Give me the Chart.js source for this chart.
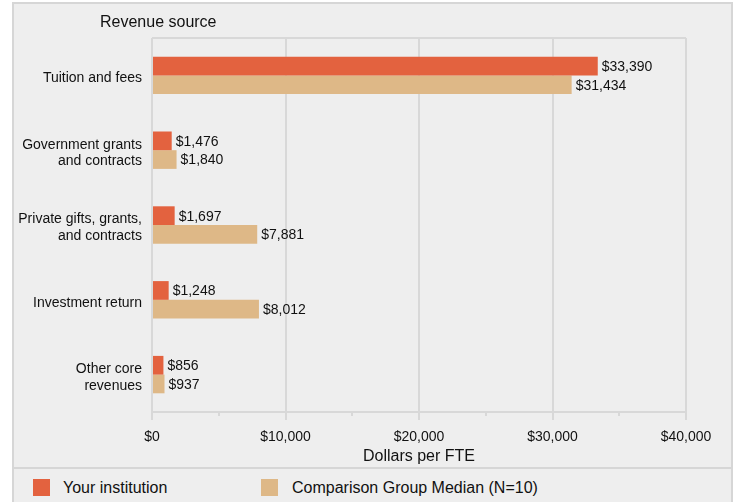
<!DOCTYPE html>
<html>
<head>
<meta charset="utf-8">
<script src="https://cdn.jsdelivr.net/npm/chart.js@4/dist/chart.umd.min.js"></script>
<style>
  html, body { margin: 0; padding: 0; background: #ffffff; width: 737px; height: 502px; overflow: hidden; }
  body { position: relative; font-family: "Liberation Sans", Arial, sans-serif; }
  #frame { position: absolute; left: 12px; top: 2px; width: 717px; height: 520px;
           border: 2px solid #d6d6d6; background: #eeeeee; }
  #divider { position: absolute; left: 12px; top: 467px; width: 721px; height: 2px; background: #d6d6d6; }
  #chart { position: absolute; left: 0; top: 0; }
  .swatch { position: absolute; width: 17px; height: 17px; top: 479px; }
  .legend-text { position: absolute; top: 480px; line-height: 16px; font-size: 16px; color: #111; white-space: nowrap; }
</style>
</head>
<body>
<div id="frame"></div>
<div id="divider"></div>
<canvas id="chart" width="737" height="468"></canvas>
<div id="legend"></div>
<script>
// Revenue per FTE by source
const categories = [
  'Tuition and fees',
  ['Government grants', 'and contracts'],
  ['Private gifts, grants,', 'and contracts'],
  'Investment return',
  ['Other core', 'revenues']
];
const yourInstitution = [33390, 1476, 1697, 1248, 856];
const comparisonMedian = [31434, 1840, 7881, 8012, 937];
const seriesNames = ['Your institution', 'Comparison Group Median (N=10)'];
const seriesColors = ['#e3623f', '#deb887'];
const xTickValues = [0, 10000, 20000, 30000, 40000];
const minorTickValues = [5000, 15000, 25000, 35000];

const FONT = '"Liberation Sans", Arial, sans-serif';
const TEXT = '#111111';
const GRID = '#d8d8d8';

const money = v => '$' + Number(v).toLocaleString('en-US');

// Heading above the category labels
const headingPlugin = {
  id: 'heading',
  afterDraw(chart) {
    const ctx = chart.ctx;
    ctx.save();
    ctx.font = '16px ' + FONT;
    ctx.fillStyle = TEXT;
    ctx.textAlign = 'left';
    ctx.textBaseline = 'middle';
    ctx.fillText('Revenue source', 100, 23);
    ctx.restore();
  }
};

// Short minor tick marks under the value axis
const minorTicksPlugin = {
  id: 'minorTicks',
  afterDraw(chart) {
    const sx = chart.scales.x;
    const ctx = chart.ctx;
    ctx.save();
    ctx.strokeStyle = GRID;
    ctx.lineWidth = 2;
    minorTickValues.forEach(v => {
      const px = Math.round(sx.getPixelForValue(v));
      ctx.beginPath();
      ctx.moveTo(px, sx.top);
      ctx.lineTo(px, sx.top + 4);
      ctx.stroke();
    });
    ctx.restore();
  }
};

// Value labels at the end of every bar
const valueLabelsPlugin = {
  id: 'valueLabels',
  afterDatasetsDraw(chart) {
    const ctx = chart.ctx;
    ctx.save();
    ctx.font = '14px ' + FONT;
    ctx.fillStyle = TEXT;
    ctx.textAlign = 'left';
    ctx.textBaseline = 'middle';
    chart.data.datasets.forEach((ds, i) => {
      chart.getDatasetMeta(i).data.forEach((bar, j) => {
        ctx.fillText(money(ds.data[j]), bar.x + 4, bar.y + 1);
      });
    });
    ctx.restore();
  }
};

new Chart(document.getElementById('chart'), {
  type: 'bar',
  data: {
    labels: categories,
    datasets: [
      { label: seriesNames[0], data: yourInstitution, backgroundColor: seriesColors[0] },
      { label: seriesNames[1], data: comparisonMedian, backgroundColor: seriesColors[1] }
    ]
  },
  options: {
    indexAxis: 'y',
    responsive: false,
    animation: false,
    devicePixelRatio: 1,
    layout: { padding: { top: 38, right: 51, bottom: 0, left: 0 } },
    datasets: { bar: { barPercentage: 1.0, categoryPercentage: 0.5, borderWidth: 0 } },
    plugins: {
      legend: { display: false },
      tooltip: { enabled: false },
      title: { display: false }
    },
    scales: {
      x: {
        min: 0,
        max: 40000,
        afterFit(scale) { scale.height = 56; },
        afterBuildTicks(scale) { scale.ticks = xTickValues.map(v => ({ value: v })); },
        grid: { color: GRID, lineWidth: 2, tickColor: GRID, tickLength: 8, drawTicks: true },
        border: { display: true, color: GRID, width: 2 },
        ticks: {
          color: TEXT,
          font: { family: FONT, size: 14 },
          padding: 9,
          maxRotation: 0,
          callback: v => money(v)
        },
        title: {
          display: true,
          text: 'Dollars per FTE',
          color: TEXT,
          font: { family: FONT, size: 16 },
          padding: { top: 0, bottom: 2 }
        }
      },
      y: {
        afterFit(scale) { scale.width = 152; },
        grid: {
          drawTicks: false,
          lineWidth: 2,
          color: ctx => (ctx.index === 0 ? GRID : 'rgba(0,0,0,0)')
        },
        border: { display: false },
        ticks: {
          color: TEXT,
          font: { family: FONT, size: 14 },
          padding: 10,
          labelOffset: 3
        }
      }
    }
  },
  plugins: [headingPlugin, minorTicksPlugin, valueLabelsPlugin]
});

// Legend row below the chart
const legend = document.getElementById('legend');
const legendPos = [[33, 63], [261, 292]];
seriesNames.forEach((name, i) => {
  const sw = document.createElement('div');
  sw.className = 'swatch';
  sw.style.left = legendPos[i][0] + 'px';
  sw.style.background = seriesColors[i];
  legend.appendChild(sw);
  const tx = document.createElement('div');
  tx.className = 'legend-text';
  tx.style.left = legendPos[i][1] + 'px';
  tx.textContent = name;
  legend.appendChild(tx);
});
</script>
</body>
</html>
